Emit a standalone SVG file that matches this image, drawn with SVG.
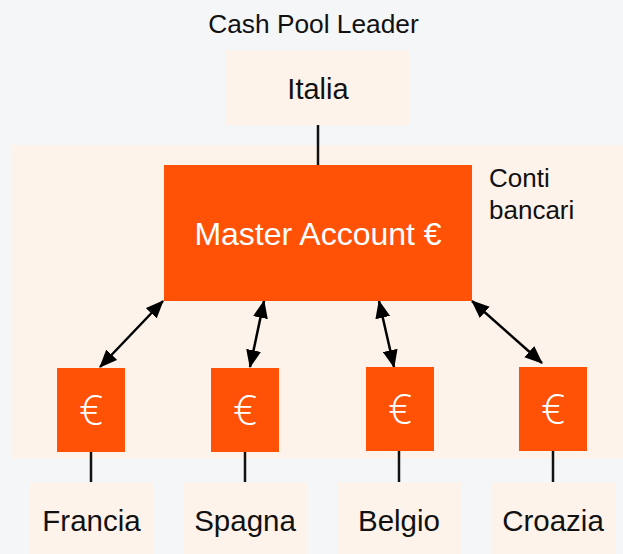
<svg xmlns="http://www.w3.org/2000/svg" width="623" height="554" viewBox="0 0 623 554">
  <defs>
    <style>
      .bg { fill: #F5F6F8; }
      .pale { fill: #FEF3EA; }
      .orange { fill: #FF5207; }
      .dark { font-family: "Liberation Sans", Arial, sans-serif; fill: #111111; }
      .light { font-family: "Liberation Sans", Arial, sans-serif; fill: #FFFFFF; }
      .eur { font-family: "Open Sans", "Liberation Sans", sans-serif; font-weight: 300; fill: #FFFFFF; font-size: 42px; text-anchor: middle; }
      .line { stroke: #111111; stroke-width: 2.5; fill: none; }
      .arrow { stroke: #000000; stroke-width: 2.5; fill: none; marker-start: url(#ah); marker-end: url(#ah); }
    </style>
    <marker id="ah" viewBox="0 0 18 15" refX="17" refY="7.5" markerWidth="18" markerHeight="15" markerUnits="userSpaceOnUse" orient="auto-start-reverse">
      <path d="M0,0 L18,7.5 L0,15 z" fill="#000000"/>
    </marker>
  </defs>

  <rect class="bg" x="0" y="0" width="623" height="554"/>

  <g id="pane">
    <rect class="pale" x="12" y="145" width="611" height="314"/>
    <text class="dark" x="489" y="187" font-size="26">Conti</text>
    <text class="dark" x="489" y="219" font-size="26">bancari</text>
  </g>

  <g id="title">
    <text class="dark" x="313.5" y="33" font-size="26.3" text-anchor="middle">Cash Pool Leader</text>
  </g>

  <g id="connectors">
    <line class="line" x1="318" y1="125" x2="318" y2="166"/>
    <line class="line" x1="91" y1="451" x2="91" y2="482"/>
    <line class="line" x1="245" y1="451" x2="245" y2="482"/>
    <line class="line" x1="399" y1="451" x2="399" y2="482"/>
    <line class="line" x1="553" y1="451" x2="553" y2="482"/>
    <line class="arrow" x1="163" y1="301" x2="100" y2="367"/>
    <line class="arrow" x1="264" y1="301" x2="250" y2="367"/>
    <line class="arrow" x1="379" y1="301" x2="394" y2="367"/>
    <line class="arrow" x1="472" y1="301" x2="542" y2="363"/>
  </g>

  <g id="italia">
    <rect class="pale" x="226" y="50" width="184" height="75"/>
    <text class="dark" x="318" y="99" font-size="29" text-anchor="middle">Italia</text>
  </g>

  <g id="master">
    <rect class="orange" x="164" y="165" width="308" height="136"/>
    <text class="light" x="318" y="245" font-size="32" text-anchor="middle">Master Account €</text>
  </g>

  <g id="eur-francia">
    <rect class="orange" x="57" y="368" width="68" height="84"/>
    <text class="eur" x="91" y="425">€</text>
  </g>
  <g id="eur-spagna">
    <rect class="orange" x="211" y="368" width="68" height="84"/>
    <text class="eur" x="245" y="425">€</text>
  </g>
  <g id="eur-belgio">
    <rect class="orange" x="366" y="367" width="68" height="84"/>
    <text class="eur" x="400" y="424">€</text>
  </g>
  <g id="eur-croazia">
    <rect class="orange" x="519" y="367" width="68" height="84"/>
    <text class="eur" x="553" y="424">€</text>
  </g>

  <g id="francia">
    <rect class="pale" x="29" y="482" width="125" height="72"/>
    <text class="dark" x="91.5" y="531" font-size="29.5" text-anchor="middle">Francia</text>
  </g>
  <g id="spagna">
    <rect class="pale" x="183" y="482" width="124" height="72"/>
    <text class="dark" x="245" y="531" font-size="29.5" text-anchor="middle">Spagna</text>
  </g>
  <g id="belgio">
    <rect class="pale" x="337" y="482" width="124" height="72"/>
    <text class="dark" x="399" y="531" font-size="29.5" text-anchor="middle">Belgio</text>
  </g>
  <g id="croazia">
    <rect class="pale" x="491" y="482" width="124" height="72"/>
    <text class="dark" x="553" y="531" font-size="29.5" text-anchor="middle">Croazia</text>
  </g>
</svg>
